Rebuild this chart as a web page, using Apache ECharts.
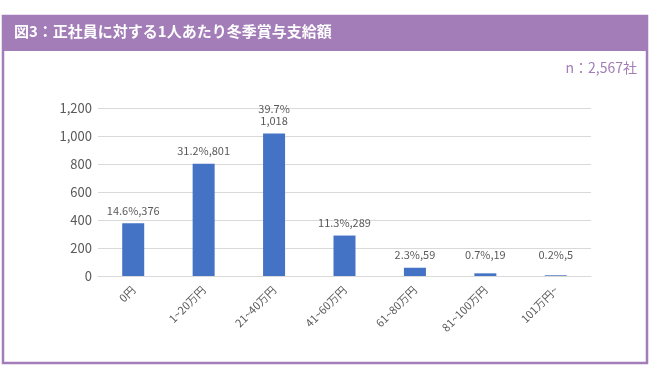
<!DOCTYPE html>
<html>
<head>
<meta charset="utf-8">
<script src="https://cdn.jsdelivr.net/npm/echarts@6/dist/echarts.min.js"></script>
<style>
html,body{margin:0;padding:0;background:#fff;}
#chart{width:650px;height:380px;}
</style>
</head>
<body>
<div id="chart"></div>
<script>
const titleText = '図3：正社員に対する1人あたり冬季賞与支給額';
const noteText = 'n：2,567社';
const categories = ['0円', '1~20万円', '21~40万円', '41~60万円', '61~80万円', '81~100万円', '101万円~'];
const counts = [376, 801, 1018, 289, 59, 19, 5];
const percents = ['14.6', '31.2', '39.7', '11.3', '2.3', '0.7', '0.2'];
const labelSeparators = [',', ',', '\n', ',', ',', ',', ','];
const yTicks = [0, 200, 400, 600, 800, 1000, 1200];

const purple = '#a27db7';
const textGray = '#595959';
const font = '"Noto Sans CJK JP", "Noto Sans", sans-serif';

const chart = echarts.init(document.getElementById('chart'), null, {renderer: 'canvas'});
chart.setOption({
  animation: false,
  backgroundColor: '#fff',
  graphic: [
    {type: 'rect', z: 0, shape: {x: 3, y: 16, width: 644, height: 347},
     style: {fill: '#fff', stroke: purple, lineWidth: 2.5}},
    {type: 'rect', z: 1, shape: {x: 2, y: 16, width: 646, height: 35},
     style: {fill: purple}},
    {type: 'text', z: 2, left: 14, top: 24,
     style: {text: titleText, fill: '#fff', font: 'bold 15px ' + font}},
    {type: 'text', z: 2, right: 13, top: 61,
     style: {text: noteText, fill: purple, font: '14px ' + font}}
  ],
  grid: {left: 98, right: 59, top: 108, bottom: 104, containLabel: false},
  xAxis: {
    type: 'category',
    data: categories,
    axisLine: {lineStyle: {color: '#d9d9d9', width: 1}},
    axisTick: {show: false},
    axisLabel: {rotate: 45, color: textGray, fontSize: 11, fontFamily: font, margin: 12, interval: 0}
  },
  yAxis: {
    type: 'value',
    min: yTicks[0],
    max: yTicks[yTicks.length - 1],
    interval: yTicks[1] - yTicks[0],
    axisLine: {show: false},
    axisTick: {show: false},
    splitLine: {lineStyle: {color: '#d9d9d9', width: 1}},
    axisLabel: {
      color: textGray, fontSize: 13, fontFamily: font, margin: 6,
      formatter: v => v.toLocaleString('en-US')
    }
  },
  series: [{
    type: 'bar',
    data: counts,
    barWidth: 22,
    itemStyle: {color: '#4472c4'},
    label: {
      show: true,
      position: 'top',
      distance: 7,
      color: textGray,
      fontSize: 11,
      fontFamily: font,
      lineHeight: 12,
      formatter: p => percents[p.dataIndex] + '%' + labelSeparators[p.dataIndex] + counts[p.dataIndex].toLocaleString('en-US')
    },
    labelLayout: function (p) {
      const bottom = p.rect.y + p.rect.height;
      const minLift = 27;
      const ly = p.labelRect.y;
      if (bottom - ly < minLift) {
        return {
          x: p.rect.x + p.rect.width / 2,
          y: bottom - minLift,
          align: 'center',
          verticalAlign: 'top'
        };
      }
      return {};
    }
  }]
});
</script>
</body>
</html>
